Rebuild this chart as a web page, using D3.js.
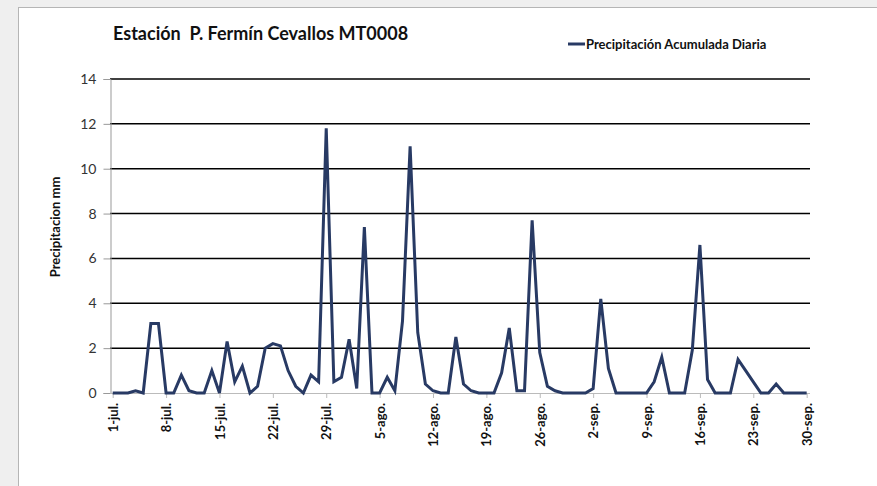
<!doctype html>
<html>
  <head>
    <meta charset="utf-8">
    <title>Estación P. Fermín Cevallos MT0008</title>
    <script src="https://cdnjs.cloudflare.com/ajax/libs/d3/7.8.5/d3.min.js"></script>
    <style>
      html, body { margin: 0; padding: 0; background: #efefef; overflow: hidden; }
      svg { display: block; font-family: Lato, "Open Sans", sans-serif; }
    </style>
  </head>
  <body>
    <div id="chart"></div>
    <script>
      // daily precipitation, 1-jul to 30-sep (92 days)
      const precip = [
        0, 0, 0, 0.1, 0, 3.1, 3.1, 0, 0, 0.8, 0.1, 0, 0, 1.0, 0, 2.3, 0.5, 1.2, 0, 0.3,
        2.0, 2.2, 2.1, 1.0, 0.3, 0, 0.8, 0.5, 11.8, 0.5, 0.7, 2.4, 0.2, 7.4, 0, 0, 0.7, 0.1,
        3.2, 11.0, 2.7, 0.4, 0.1, 0, 0, 2.5, 0.4, 0.1, 0, 0, 0, 0.9, 2.9, 0.1, 0.1, 7.7,
        1.8, 0.3, 0.1, 0, 0, 0, 0, 0.2, 4.2, 1.1, 0, 0, 0, 0, 0, 0.5, 1.6, 0, 0, 0,
        1.9, 6.6, 0.6, 0, 0, 0, 1.5, 1.0, 0.5, 0, 0, 0.4, 0, 0, 0, 0
      ];
      // x tick labels, every 7 days
      const xTickLabels = ["1-jul.", "8-jul.", "15-jul.", "22-jul.", "29-jul.", "5-ago.", "12-ago.",
        "19-ago.", "26-ago.", "2-sep.", "9-sep.", "16-sep.", "23-sep.", "30-sep."];
      const yTicks = [0, 2, 4, 6, 8, 10, 12, 14];

      const W = 877, H = 486;
      const svg = d3.select("#chart").append("svg")
        .attr("width", W)
        .attr("height", H);

      // white chart area, border only on top and left (rest runs off the page)
      svg.append("rect")
        .attr("x", 18.5).attr("y", 7.5)
        .attr("width", 900).attr("height", 500)
        .attr("fill", "#fff")
        .attr("stroke", "#b5b5b5");

      const x = d3.scaleLinear().domain([0, 92]).range([112.7, 814.3]);
      const y = d3.scaleLinear().domain([0, 14]).range([393, 79]);

      // gridlines
      svg.append("g")
        .selectAll("line")
        .data(yTicks.filter(d => d > 0))
        .join("line")
        .attr("x1", 110).attr("x2", 810)
        .attr("y1", d => y(d)).attr("y2", d => y(d))
        .attr("stroke", "#000")
        .attr("stroke-width", 1.5);

      // y axis
      const yAxis = svg.append("g")
        .attr("transform", "translate(110.5,0)")
        .call(d3.axisLeft(y).tickValues(yTicks).tickSize(7).tickPadding(7));
      yAxis.select(".domain").attr("stroke", "#999");
      yAxis.selectAll(".tick line").attr("stroke", "#999");
      yAxis.selectAll(".tick text")
        .attr("fill", "#333")
        .style("font-size", "14px")
        .style("font-family", "Lato, 'Open Sans', sans-serif");

      // x axis
      const xTicks = xTickLabels.map((d, i) => i * 7);
      const xAxis = svg.append("g")
        .attr("transform", "translate(0,393)")
        .call(d3.axisBottom(x).tickValues(xTicks).tickSize(5)
          .tickFormat((d, i) => xTickLabels[i]));
      xAxis.select(".domain").attr("stroke", "#bbb").attr("d", "M110,0.5H810");
      xAxis.selectAll(".tick line").attr("stroke", "#bbb");
      xAxis.selectAll(".tick text")
        .attr("transform", "rotate(-90)")
        .attr("x", -10).attr("y", 0).attr("dy", "0.35em")
        .attr("text-anchor", "end")
        .attr("fill", "#111")
        .style("font-size", "13px")
        .style("font-weight", "bold")
        .style("font-family", "Lato, 'Open Sans', sans-serif");

      // data line
      const line = d3.line()
        .x((d, i) => x(i))
        .y(d => y(d));
      svg.append("path")
        .datum(precip)
        .attr("d", line)
        .attr("fill", "none")
        .attr("stroke", "#283a64")
        .attr("stroke-width", 3)
        .attr("stroke-linejoin", "miter");

      // title
      svg.append("text")
        .attr("x", 113).attr("y", 40)
        .attr("xml:space", "preserve")
        .style("font-size", "18px")
        .style("font-weight", "bold")
        .attr("fill", "#111")
        .text("Estación  P. Fermín Cevallos MT0008");

      // legend
      svg.append("line")
        .attr("x1", 568).attr("x2", 585)
        .attr("y1", 44).attr("y2", 44)
        .attr("stroke", "#283a64").attr("stroke-width", 3);
      svg.append("text")
        .attr("x", 586).attr("y", 49)
        .style("font-size", "13px")
        .style("font-weight", "bold")
        .attr("fill", "#111")
        .text("Precipitación Acumulada Diaria");

      // y axis title
      svg.append("text")
        .attr("transform", "translate(60,227) rotate(-90)")
        .attr("text-anchor", "middle")
        .style("font-size", "13px")
        .style("font-weight", "bold")
        .attr("fill", "#111")
        .text("Precipitacion mm");
    </script>
  </body>
</html>
